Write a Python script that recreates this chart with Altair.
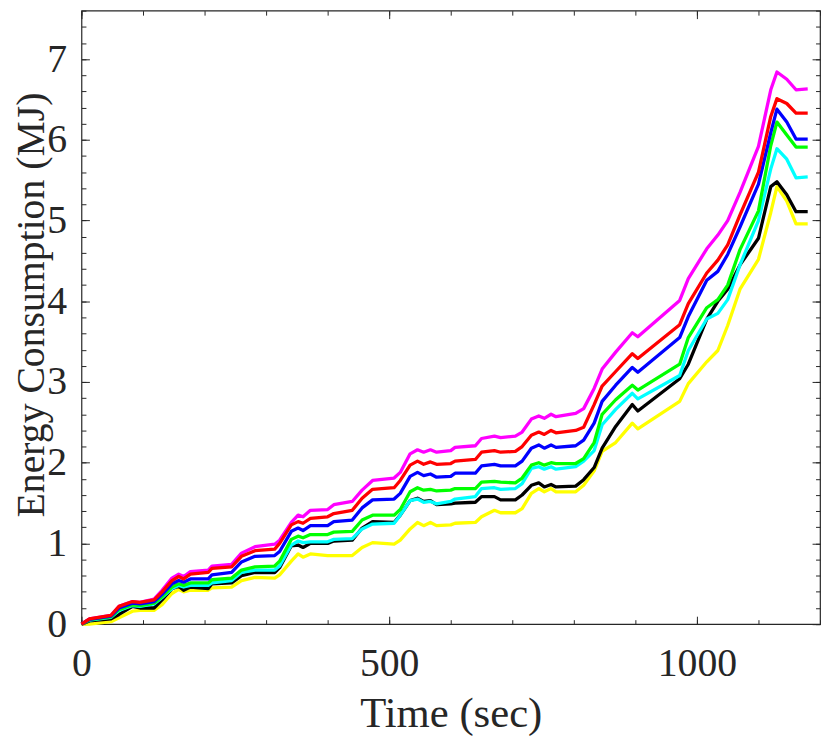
import altair as alt
import pandas as pd

# time grid (sec)
t = [0, 13, 48, 61, 83, 95, 118, 131, 147, 158, 166, 177, 206, 212, 244, 260, 282, 314, 322,
     341, 352, 360, 372, 400, 410, 440, 456, 473, 508, 518, 534, 546, 556, 567, 577, 600, 607,
     640, 650, 671, 681, 705, 716, 731, 743, 752, 763, 771, 803, 816, 833, 846, 868, 895, 904,
     972, 986, 1016, 1034, 1050, 1070, 1100, 1120, 1130, 1146, 1161, 1180]

magenta = [0, 0.065, 0.11, 0.22, 0.28, 0.27, 0.31, 0.42, 0.57, 0.62, 0.59, 0.65, 0.67, 0.72, 0.74, 0.88, 0.96, 0.99, 1.04,
           1.26, 1.35, 1.33, 1.41, 1.42, 1.48, 1.52, 1.66, 1.78, 1.81, 1.88, 2.11, 2.16, 2.13, 2.16, 2.13, 2.15, 2.19,
           2.21, 2.30, 2.33, 2.31, 2.33, 2.38, 2.54, 2.58, 2.55, 2.60, 2.57, 2.61, 2.67, 2.92, 3.16, 3.37, 3.61, 3.56,
           4.01, 4.28, 4.65, 4.82, 5.00, 5.35, 5.92, 6.62, 6.84, 6.75, 6.62, 6.63]
red = [0, 0.065, 0.11, 0.22, 0.28, 0.27, 0.30, 0.40, 0.54, 0.59, 0.56, 0.62, 0.64, 0.69, 0.71, 0.84, 0.91, 0.93, 1.00,
       1.23, 1.27, 1.25, 1.31, 1.33, 1.37, 1.41, 1.56, 1.67, 1.69, 1.78, 1.97, 2.02, 1.98, 2.01, 1.98, 1.99, 2.02,
       2.04, 2.13, 2.15, 2.13, 2.14, 2.20, 2.34, 2.38, 2.35, 2.40, 2.37, 2.40, 2.44, 2.72, 2.95, 3.13, 3.35, 3.29,
       3.71, 3.97, 4.35, 4.51, 4.70, 5.07, 5.60, 6.29, 6.51, 6.45, 6.33, 6.33]
blue = [0, 0.06, 0.10, 0.20, 0.26, 0.25, 0.28, 0.37, 0.50, 0.54, 0.52, 0.56, 0.56, 0.61, 0.64, 0.77, 0.84, 0.85, 0.90,
        1.15, 1.19, 1.16, 1.22, 1.22, 1.27, 1.29, 1.44, 1.54, 1.55, 1.62, 1.83, 1.88, 1.84, 1.86, 1.82, 1.83, 1.87,
        1.87, 1.96, 1.98, 1.96, 1.96, 2.02, 2.18, 2.22, 2.18, 2.22, 2.19, 2.21, 2.28, 2.49, 2.76, 2.96, 3.18, 3.12,
        3.55, 3.81, 4.26, 4.37, 4.58, 4.92, 5.45, 6.09, 6.38, 6.22, 6.01, 6.01]
green = [0, 0.055, 0.09, 0.18, 0.24, 0.23, 0.26, 0.34, 0.46, 0.50, 0.48, 0.51, 0.51, 0.55, 0.57, 0.67, 0.71, 0.72, 0.78,
         1.05, 1.09, 1.07, 1.11, 1.11, 1.14, 1.15, 1.29, 1.35, 1.35, 1.42, 1.64, 1.69, 1.66, 1.67, 1.65, 1.66, 1.68,
         1.68, 1.76, 1.77, 1.76, 1.75, 1.81, 1.97, 2.00, 1.97, 2.00, 1.99, 1.99, 2.05, 2.25, 2.60, 2.78, 2.96, 2.90,
         3.22, 3.55, 3.92, 4.02, 4.20, 4.64, 5.12, 5.93, 6.22, 6.06, 5.91, 5.91]
cyan = [0, 0.05, 0.085, 0.17, 0.23, 0.22, 0.25, 0.33, 0.44, 0.48, 0.46, 0.48, 0.48, 0.51, 0.54, 0.64, 0.67, 0.67, 0.72,
        0.98, 1.03, 1.01, 1.02, 1.02, 1.05, 1.06, 1.18, 1.24, 1.25, 1.35, 1.53, 1.55, 1.51, 1.52, 1.49, 1.52, 1.55,
        1.58, 1.68, 1.69, 1.67, 1.68, 1.74, 1.93, 1.95, 1.92, 1.95, 1.92, 1.95, 2.02, 2.15, 2.47, 2.66, 2.86, 2.79,
        3.08, 3.39, 3.78, 3.85, 4.02, 4.45, 5.00, 5.64, 5.89, 5.76, 5.53, 5.54]
black = [0, 0.04, 0.065, 0.12, 0.22, 0.20, 0.20, 0.30, 0.44, 0.47, 0.42, 0.46, 0.44, 0.50, 0.51, 0.60, 0.64, 0.64, 0.70,
         0.97, 0.98, 0.95, 1.00, 1.00, 1.03, 1.04, 1.19, 1.27, 1.26, 1.35, 1.53, 1.56, 1.52, 1.53, 1.48, 1.49, 1.50,
         1.51, 1.58, 1.58, 1.54, 1.54, 1.60, 1.72, 1.75, 1.70, 1.73, 1.70, 1.71, 1.79, 1.94, 2.18, 2.45, 2.72, 2.64,
         3.04, 3.22, 3.78, 4.00, 4.15, 4.45, 4.78, 5.42, 5.48, 5.32, 5.11, 5.11]
yellow = [0, 0.0, 0.03, 0.08, 0.16, 0.17, 0.17, 0.24, 0.38, 0.43, 0.40, 0.42, 0.42, 0.45, 0.46, 0.54, 0.58, 0.57, 0.61,
          0.78, 0.87, 0.83, 0.87, 0.85, 0.85, 0.85, 0.95, 1.01, 0.99, 1.04, 1.18, 1.26, 1.22, 1.26, 1.22, 1.23, 1.25,
          1.26, 1.33, 1.41, 1.38, 1.38, 1.43, 1.62, 1.68, 1.64, 1.68, 1.64, 1.64, 1.72, 1.90, 2.14, 2.25, 2.49, 2.42,
          2.76, 2.98, 3.25, 3.39, 3.70, 4.15, 4.52, 5.10, 5.42, 5.24, 4.96, 4.96]

# drawing order (first = bottom)
series = [
    ("magenta", magenta, "#ff00ff"),
    ("yellow", yellow, "#ffff00"),
    ("black", black, "#000000"),
    ("cyan", cyan, "#00ffff"),
    ("green", green, "#00ff00"),
    ("blue", blue, "#0000ff"),
    ("red", red, "#ff0000"),
]

rows = []
for name, vals, _ in series:
    for ti, vi in zip(t, vals):
        rows.append({"t": ti, "v": vi, "s": name})
df = pd.DataFrame(rows)

W, H = 744, 618
FONT = "Liberation Serif"
AX = "#262626"
xs = alt.Scale(domain=[0, 1200], nice=False, zero=False)
ys = alt.Scale(domain=[0, 7.6], nice=False, zero=False)

base = alt.Chart(df)

layers = []
for name, vals, col in series:
    layers.append(
        base.transform_filter(alt.datum.s == name)
        .mark_line(color=col, strokeWidth=3.3, strokeJoin="round", strokeCap="butt")
        .encode(x=alt.X("t:Q", scale=xs, axis=None), y=alt.Y("v:Q", scale=ys, axis=None))
    )

main_axis = base.mark_line(strokeOpacity=0).encode(
    x=alt.X("t:Q", scale=xs, axis=alt.Axis(
        orient="bottom", values=[0, 500, 1000], format="d", ticks=False, tickSize=0, domain=False, grid=False,
        labelFont=FONT, labelFontSize=40, labelColor=AX, labelBaseline="alphabetic", labelPadding=52,
        labelFlush=False, labelOverlap=False,
        title="Time (sec)", titleFont=FONT, titleFontSize=43, titleFontWeight="normal", titleColor=AX,
        titleX=W / 2, titleY=103, titleBaseline="alphabetic", titleAlign="center")),
    y=alt.Y("v:Q", scale=ys, axis=alt.Axis(
        orient="left", values=list(range(8)), format="d", ticks=False, tickSize=0, domain=False, grid=False,
        labelFont=FONT, labelFontSize=40, labelColor=AX, labelPadding=15, labelAlign="right",
        labelBaseline="middle", labelFlush=False, labelOverlap=False,
        title="Energy Consumption (MJ)", titleFont=FONT, titleFontSize=40, titleFontWeight="normal",
        titleColor=AX, titleAngle=270, titleX=-38, titleY=296, titleBaseline="alphabetic", titleAlign="center")),
    detail="s:N",
)

x_major = [0, 500, 1000]
x_minor = list(range(0, 1201, 100))
y_major = list(range(8))
y_minor = [round(i * 0.2, 1) for i in range(39)]


def tick_layer(xvals, yvals, size, xorient, yorient):
    return base.mark_line(strokeOpacity=0).encode(
        x=alt.X("t:Q", scale=xs, axis=alt.Axis(
            orient=xorient, offset=-H, values=xvals, tickSize=size, tickColor=AX, tickWidth=1,
            labels=False, domain=False, grid=False, title="")),
        y=alt.Y("v:Q", scale=ys, axis=alt.Axis(
            orient=yorient, offset=-W, values=yvals, tickSize=size, tickColor=AX, tickWidth=1,
            labels=False, domain=False, grid=False, title="")),
        detail="s:N",
    )


ticks = [
    tick_layer(x_major, y_major, 8, "top", "right"),      # bottom & left edges, inward
    tick_layer(x_major, y_major, 8, "bottom", "left"),    # top & right edges, inward
    tick_layer(x_minor, y_minor, 4.5, "top", "right"),
    tick_layer(x_minor, y_minor, 4.5, "bottom", "left"),
]

chart = (
    alt.layer(*ticks, main_axis, *layers)
    .resolve_axis(x="independent", y="independent")
    .properties(width=W, height=H, autosize="none",
                padding={"left": 74, "top": 0, "right": 2, "bottom": 112},
                background="white")
    .configure_view(stroke=AX, strokeWidth=1.2)
)

chart.save("out.html", embed_options={"renderer": "svg", "actions": False})
